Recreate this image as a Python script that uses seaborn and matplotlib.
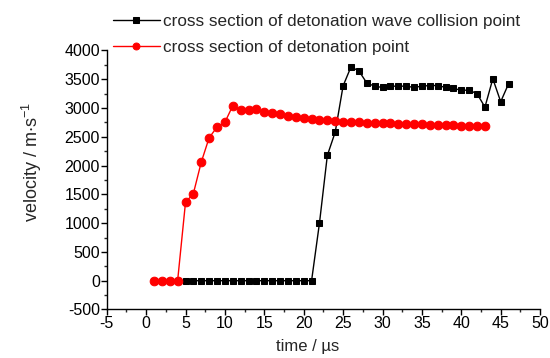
import numpy as np
import pandas as pd
import matplotlib
matplotlib.use("Agg")
import matplotlib.pyplot as plt
from matplotlib.ticker import MultipleLocator
import seaborn as sns

# time (µs) and velocity (m/s) readings
t_collision = list(range(1, 47))
v_collision = [0] * 21 + [1000, 2177, 2582, 3385, 3715, 3645, 3437, 3378, 3358,
                          3380, 3380, 3380, 3358, 3380, 3391, 3391, 3358, 3340,
                          3310, 3310, 3249, 3016, 3509, 3110, 3422]

t_detonation = list(range(1, 44))
v_detonation = [0, 0, 0, 0, 1360, 1515, 2060, 2484, 2669, 2753, 3040, 2971,
                2962, 2982, 2930, 2919, 2889, 2860, 2843, 2832, 2808, 2797,
                2785, 2773, 2766, 2756, 2750, 2744, 2738, 2738, 2733, 2727,
                2727, 2721, 2715, 2710, 2710, 2704, 2698, 2692, 2692, 2686, 2681]

label_collision = "cross section of detonation wave collision point"
label_detonation = "cross section of detonation point"

x_ticks = list(range(-5, 51, 5))
y_ticks = list(range(-500, 4001, 500))

sns.set_style("ticks")
plt.rcParams["font.family"] = ["Liberation Sans", "DejaVu Sans"]
plt.rcParams["mathtext.fontset"] = "custom"
plt.rcParams["mathtext.rm"] = "Liberation Sans"
plt.rcParams["mathtext.default"] = "regular"
plt.rcParams["axes.unicode_minus"] = False

df_c = pd.DataFrame({"t": t_collision, "v": v_collision})
df_d = pd.DataFrame({"t": t_detonation, "v": v_detonation})

fig = plt.figure(figsize=(5.5, 3.58), dpi=100)
ax = fig.add_axes([0.194, 0.1355, 0.788, 0.7235])

sns.lineplot(data=df_c, x="t", y="v", ax=ax, color="black", marker="s",
             markersize=5, markeredgecolor="black", linewidth=1.0,
             label=label_collision)
sns.lineplot(data=df_d, x="t", y="v", ax=ax, color="#ff0000", marker="o",
             markersize=6.2, markeredgecolor="#ff0000", linewidth=1.0,
             label=label_detonation)

ax.set_xlim(-5, 50)
ax.set_ylim(-500, 4000)
ax.set_xticks(x_ticks)
ax.set_yticks(y_ticks)
ax.xaxis.set_minor_locator(MultipleLocator(2.5))
ax.yaxis.set_minor_locator(MultipleLocator(250))
ax.tick_params(axis="both", which="major", direction="out", length=4,
               width=1, labelsize=11.5, colors="black", pad=1)
ax.tick_params(axis="both", which="minor", direction="out", length=2.5,
               width=1)
for side in ("top", "right"):
    ax.spines[side].set_visible(False)
for side in ("left", "bottom"):
    ax.spines[side].set_linewidth(1.0)
    ax.spines[side].set_color("black")

ax.set_xlabel("time / µs", fontsize=12)
ax.xaxis.set_label_coords(0.463, -0.115)
ax.set_ylabel(r"velocity / m$\cdot$s$^{-1}$", fontsize=13)
ax.yaxis.set_label_coords(-0.145, 0.57)

ax.legend(loc="upper left", bbox_to_anchor=(0.205, 0.962),
          bbox_transform=fig.transFigure, frameon=False, fontsize=12.3,
          handlelength=2.75, handletextpad=0.18, labelspacing=0.68,
          borderpad=0, borderaxespad=0, markerscale=0.8)

fig.savefig("out.png", dpi=100)
